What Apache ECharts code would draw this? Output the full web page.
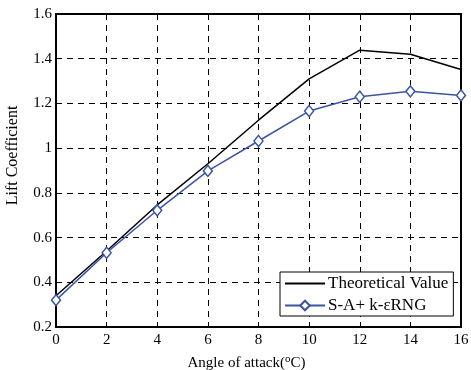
<!DOCTYPE html>
<html><head><meta charset="utf-8">
<script src="https://cdn.jsdelivr.net/npm/echarts@6/dist/echarts.min.js"></script>
<style>html,body{margin:0;padding:0;background:#fff}#c{width:471px;height:370px}</style>
</head><body><div id="c"></div>
<script>
var angles = [0, 2, 4, 6, 8, 10, 12, 14, 16];
var theoretical = [0.34, 0.54, 0.746, 0.93, 1.125, 1.31, 1.438, 1.42, 1.352];
var sakRng = [0.32, 0.532, 0.722, 0.898, 1.032, 1.166, 1.23, 1.254, 1.236];
var names = ['Theoretical Value', 'S-A+ k-\u03b5RNG'];

var font = 'Liberation Serif';
var chart = echarts.init(document.getElementById('c'));
function pairs(xs, ys){ return xs.map(function(x,i){return [x, ys[i]];}); }
chart.setOption({
  animation: false,
  backgroundColor: '#fff',
  textStyle: {fontFamily: font},
  grid: {left: 56, right: 10, top: 14, bottom: 43, containLabel: false, outerBoundsMode: 'none',
         show: true, borderColor: '#000', borderWidth: 2},
  legend: {
    orient: 'vertical', left: 280, top: 272,
    backgroundColor: '#fff', borderColor: '#000', borderWidth: 1, borderRadius: 0,
    padding: [3, 5, 2, 4], itemGap: 5, itemWidth: 40, itemHeight: 12,
    textStyle: {fontFamily: font, fontSize: 17, color: '#000', padding: [0,0,0,-2]},
    data: [{name: names[0], itemStyle: {opacity: 0}}, {name: names[1]}]
  },
  xAxis: {
    type: 'value', min: 0, max: 16, interval: 2,
    name: 'Angle of attack({sup|o}C)', nameLocation: 'middle', nameGap: 27,
    nameTextStyle: {fontFamily: font, fontSize: 15, color: '#000', padding: [0, 24, 0, 0],
      rich: {sup: {fontFamily: font, fontSize: 11, color: '#000', verticalAlign: 'top', padding:[0,0,7,0]}}},
    axisLine: {show: true, onZero: false, lineStyle: {color: '#000', width: 2}},
    axisTick: {show: true, inside: true, length: 5, lineStyle: {color: '#000'}},
    axisLabel: {fontFamily: font, fontSize: 15, color: '#000', margin: 6},
    splitLine: {show: true, lineStyle: {color: '#000', type: [6, 5], width: 1}}
  },
  yAxis: {
    type: 'value', min: 0.2, max: 1.6, interval: 0.2,
    name: 'Lift Coefficient', nameLocation: 'middle', nameGap: 35,
    nameTextStyle: {fontFamily: font, fontSize: 16, color: '#000', padding: [0, 0, 0, 30]},
    axisLine: {show: true, onZero: false, lineStyle: {color: '#000', width: 2}},
    axisTick: {show: true, inside: true, length: 5, lineStyle: {color: '#000'}},
    axisLabel: {fontFamily: font, fontSize: 15, color: '#000', margin: 4,
      formatter: function(v){ return String(Math.round(v*10)/10); }},
    splitLine: {show: true, lineStyle: {color: '#000', type: [6, 5], width: 1}}
  },
  series: [
    {name: names[0], type: 'line', data: pairs(angles, theoretical), symbol: 'none',
     lineStyle: {color: '#000', width: 1.5}, itemStyle: {color: '#000'}, z: 3},
    {name: names[1], type: 'line', data: pairs(angles, sakRng), symbol: 'diamond', symbolSize: [9, 11],
     lineStyle: {color: '#3b54a5', width: 1.5},
     itemStyle: {color: '#fff', borderColor: '#3b54a5', borderWidth: 1.5}, z: 4}
  ]
});
</script></body></html>
